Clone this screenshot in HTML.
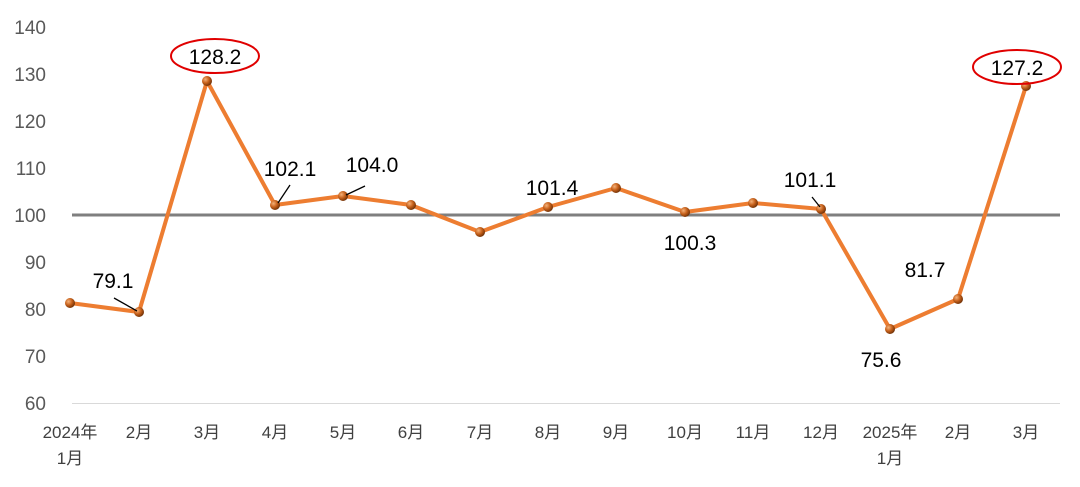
<!DOCTYPE html>
<html><head><meta charset="utf-8"><style>
body{margin:0;background:#fff;width:1080px;height:482px;overflow:hidden}
svg text{font-family:"Liberation Sans","Noto Sans CJK SC",sans-serif}
</style></head><body>
<svg width="1080" height="482" viewBox="0 0 1080 482">
<defs>
<radialGradient id="g" cx="0.35" cy="0.35" r="0.7">
<stop offset="0" stop-color="#f4b27a"/><stop offset="0.5" stop-color="#c8621c"/><stop offset="1" stop-color="#6b2e05"/>
</radialGradient>
</defs>
<g font-size="19" fill="#595959" text-anchor="end">
<text x="46" y="34">140</text><text x="46" y="81">130</text><text x="46" y="128">120</text>
<text x="46" y="175">110</text><text x="46" y="222">100</text><text x="46" y="269">90</text>
<text x="46" y="316">80</text><text x="46" y="363">70</text><text x="46" y="410">60</text>
</g>
<line x1="72" y1="403.5" x2="1060" y2="403.5" stroke="#d9d9d9" stroke-width="1"/>
<line x1="72" y1="215" x2="1060" y2="215" stroke="#7f7f7f" stroke-width="3"/>
<g font-size="17" fill="#404040" text-anchor="middle">
<text x="70" y="438">2024年</text><text x="70" y="464">1月</text>
<text x="139" y="438">2月</text><text x="207" y="438">3月</text><text x="275" y="438">4月</text>
<text x="343" y="438">5月</text><text x="411" y="438">6月</text><text x="480" y="438">7月</text>
<text x="548" y="438">8月</text><text x="616" y="438">9月</text><text x="685" y="438">10月</text>
<text x="753" y="438">11月</text><text x="821" y="438">12月</text>
<text x="890" y="438">2025年</text><text x="890" y="464">1月</text>
<text x="958" y="438">2月</text><text x="1026" y="438">3月</text>
</g>
<polyline fill="none" stroke="#ed7d31" stroke-width="4" stroke-linejoin="round"
points="70,303 139,312 207,81 275,205 343,196 411,205 480,232 548,207 616,188 685,212 753,203 821,209 890,329 958,299 1026,86"/>
<g fill="url(#g)">
<circle cx="70" cy="303" r="5"/><circle cx="139" cy="312" r="5"/><circle cx="207" cy="81" r="5"/>
<circle cx="275" cy="205" r="5"/><circle cx="343" cy="196" r="5"/><circle cx="411" cy="205" r="5"/>
<circle cx="480" cy="232" r="5"/><circle cx="548" cy="207" r="5"/><circle cx="616" cy="188" r="5"/>
<circle cx="685" cy="212" r="5"/><circle cx="753" cy="203" r="5"/><circle cx="821" cy="209" r="5"/>
<circle cx="890" cy="329" r="5"/><circle cx="958" cy="299" r="5"/><circle cx="1026" cy="86" r="5"/>
</g>
<g stroke="#000" stroke-width="1.3">
<line x1="114" y1="298" x2="137" y2="311"/>
<line x1="290" y1="185" x2="278" y2="203"/>
<line x1="365" y1="186" x2="346" y2="195"/>
<line x1="812" y1="197" x2="820" y2="207"/>
</g>
<g font-size="21" fill="#000" text-anchor="middle">
<text x="113" y="288">79.1</text>
<text x="215" y="64">128.2</text>
<text x="290" y="176">102.1</text>
<text x="372" y="172">104.0</text>
<text x="552" y="195">101.4</text>
<text x="690" y="250">100.3</text>
<text x="810" y="187">101.1</text>
<text x="881" y="367">75.6</text>
<text x="925" y="277">81.7</text>
<text x="1017" y="75">127.2</text>
</g>
<ellipse cx="215" cy="56" rx="44" ry="17" fill="none" stroke="#e00000" stroke-width="2"/>
<ellipse cx="1017" cy="67" rx="44" ry="17" fill="none" stroke="#e00000" stroke-width="2"/>
</svg>
</body></html>
